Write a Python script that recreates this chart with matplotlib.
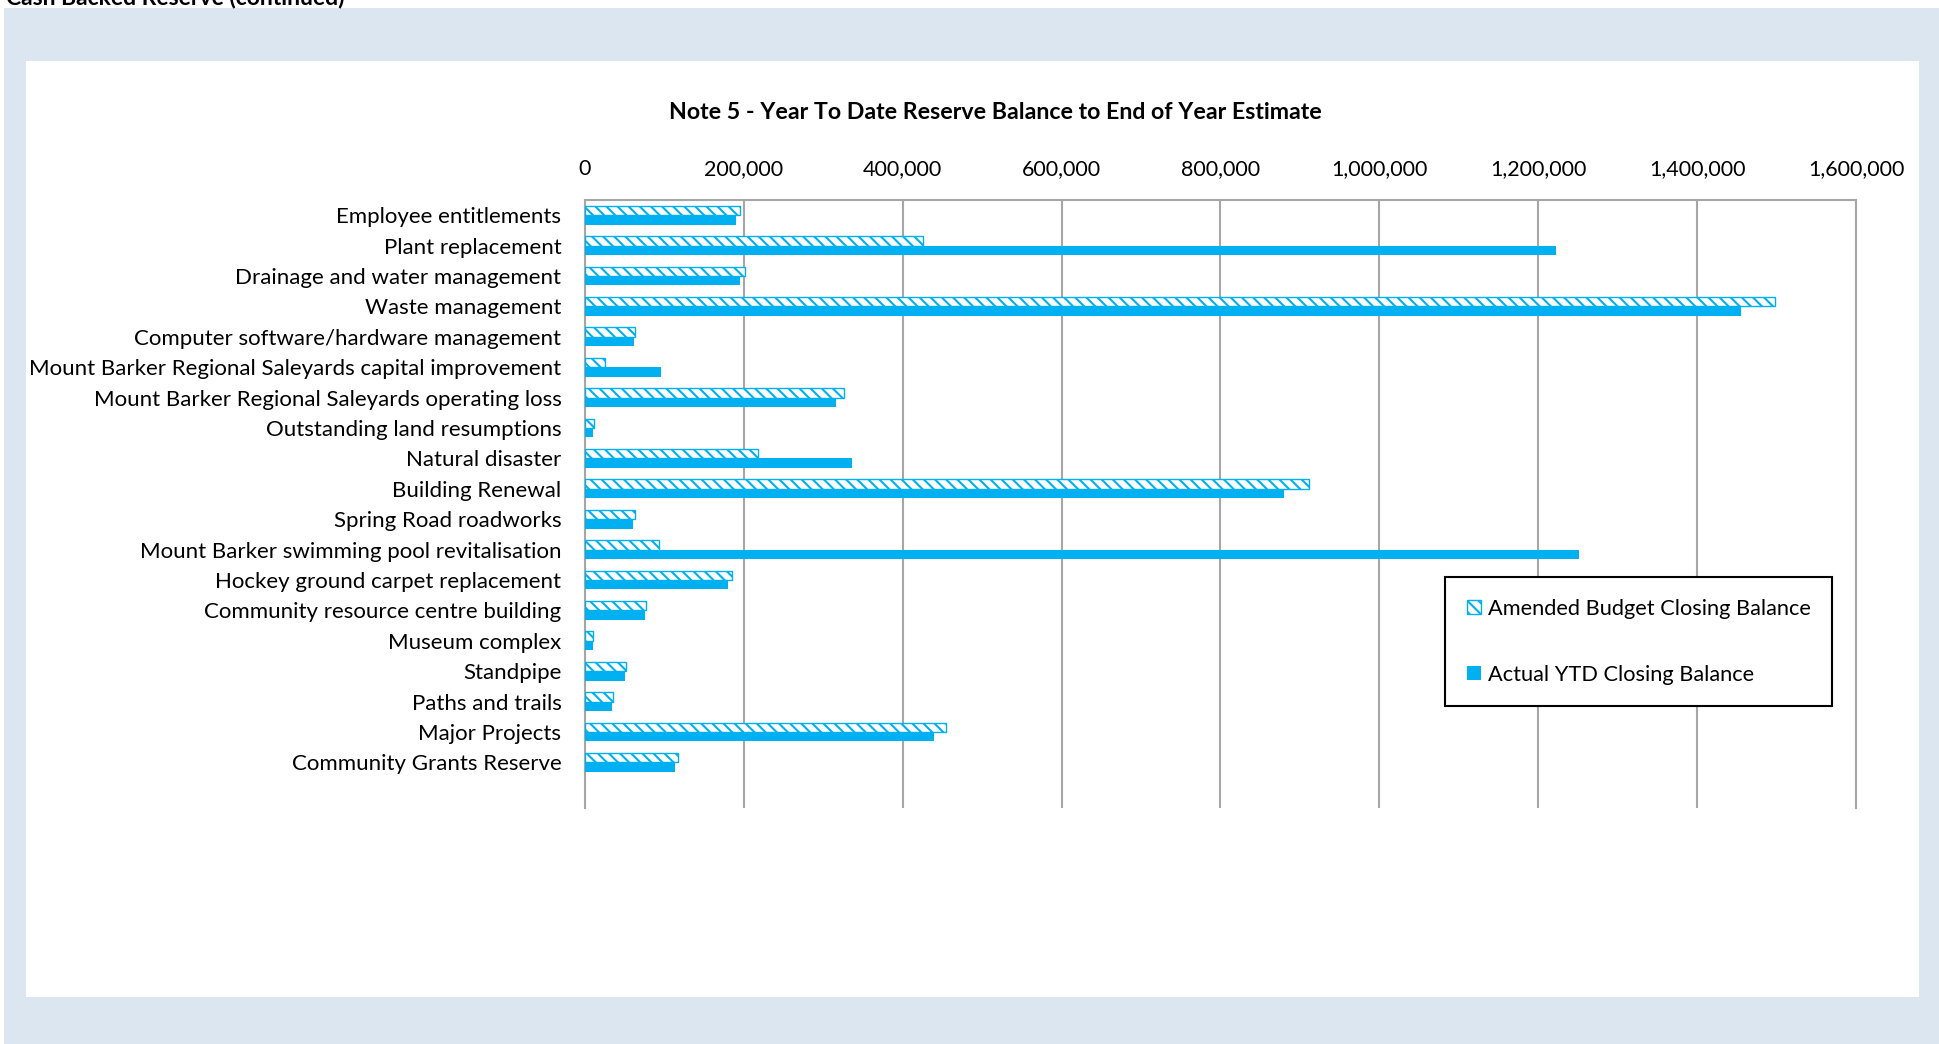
import numpy as np
import matplotlib.pyplot as plt
from matplotlib.patches import Rectangle
from matplotlib.ticker import FuncFormatter

# -----------------------------
# DATA
# -----------------------------
categories = [
    "Employee entitlements",
    "Plant replacement",
    "Drainage and water management",
    "Waste management",
    "Computer software/hardware management",
    "Mount Barker Regional Saleyards capital improvement",
    "Mount Barker Regional Saleyards operating loss",
    "Outstanding land resumptions",
    "Natural disaster",
    "Building Renewal",
    "Spring Road roadworks",
    "Mount Barker swimming pool revitalisation",
    "Hockey ground carpet replacement",
    "Community resource centre building",
    "Museum complex",
    "Standpipe",
    "Paths and trails",
    "Major Projects",
    "Community Grants Reserve",
]
amended_budget = [195600, 426100, 201100, 1498500, 63400, 25600, 326600, 10900, 217900,
                  911500, 62600, 93600, 185100, 77200, 10000, 52000, 35700, 454200, 116700]
actual_ytd = [189800, 1222000, 194800, 1455600, 61300, 96100, 315700, 10000, 336300,
              880000, 60900, 1251000, 179700, 75100, 9700, 50400, 34400, 439100, 112900]
x_ticks = [0, 200000, 400000, 600000, 800000, 1000000, 1200000, 1400000, 1600000]

title = "Note 5 - Year To Date Reserve Balance to End of Year Estimate"
series_names = ["Amended Budget Closing Balance", "Actual YTD Closing Balance"]

BLUE = "#00B0F0"
GRID = "#A6A6A6"
PANEL_BG = "#DCE6F1"

plt.rcParams['font.family'] = ['Lato', 'DejaVu Sans']
plt.rcParams['hatch.linewidth'] = 1.5

# -----------------------------
# FIGURE + BACKGROUND PANELS
# -----------------------------
W, H = 1940, 1044
fig = plt.figure(figsize=(W / 100, H / 100), dpi=100)
fig.patch.set_facecolor("white")


def box(x0, y0, x1, y1, color):
    # pixel coords measured from top-left
    fig.patches.append(Rectangle((x0 / W, 1 - y1 / H), (x1 - x0) / W, (y1 - y0) / H,
                                 transform=fig.transFigure, facecolor=color,
                                 edgecolor="none", zorder=-10))


box(4, 8, W, H, PANEL_BG)
box(26, 61, 1919, 997, "white")

fig.text(6 / W, 1 - 4 / H, "Cash Backed Reserve (continued)", ha="left", va="baseline",
         fontsize=16.5, fontweight="bold", color="black")

# -----------------------------
# BARS
# -----------------------------
ax = fig.add_axes([585 / W, 1 - 808 / H, (1856 - 585) / W, (808 - 200) / H])
ax.set_facecolor("none")
ax.set_zorder(2)

y = np.arange(len(categories))
h = 0.306
ax.barh(y - h / 2, amended_budget, height=h, color="white", edgecolor=BLUE,
        hatch="\\\\\\", linewidth=1.0, label=series_names[0], zorder=3)
ax.barh(y + h / 2, actual_ytd, height=h, color=BLUE, edgecolor="none",
        label=series_names[1], zorder=3)

ax.set_xlim(0, 1600000)
ax.set_ylim(len(categories) + 0.5, -0.5)
ax.set_xticks(x_ticks)
ax.xaxis.set_major_formatter(FuncFormatter(lambda v, p: f"{v:,.0f}"))
ax.xaxis.tick_top()
ax.set_yticks(y)
ax.set_yticklabels(categories)
ax.tick_params(axis="both", length=0, colors="black")
ax.tick_params(axis="x", pad=15, labelsize=15.5)
ax.tick_params(axis="y", pad=17, labelsize=16)

ax.grid(axis="x", color=GRID, linewidth=1.5, zorder=1)
ax.set_axisbelow(True)
for side in ["top", "left", "right"]:
    ax.spines[side].set_color(GRID)
    ax.spines[side].set_linewidth(1.5)
ax.spines["bottom"].set_visible(False)

fig.text(995 / W, 1 - 112.5 / H, title, ha="center", va="center",
         fontsize=16.7, fontweight="bold", color="black")

leg = ax.legend(loc="upper left", bbox_to_anchor=(1445 / W, 1 - 577 / H),
                bbox_transform=fig.transFigure, fontsize=15.7, frameon=True,
                fancybox=False, framealpha=1, edgecolor="black",
                handlelength=0.65, handleheight=0.65, handletextpad=0.3,
                labelspacing=2.1, borderpad=1.0, borderaxespad=0)
leg.get_frame().set_linewidth(1.5)

plt.savefig("out.png", dpi=100)
